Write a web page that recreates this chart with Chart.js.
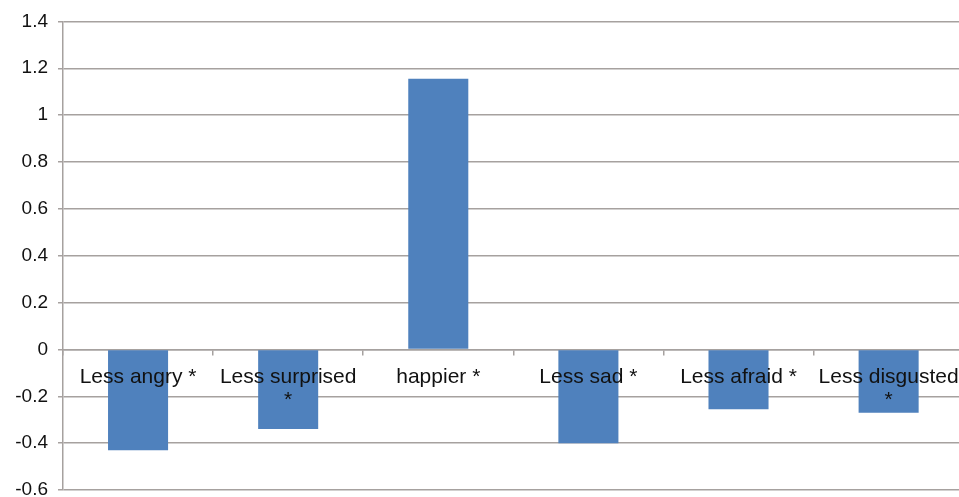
<!DOCTYPE html>
<html>
<head>
<meta charset="utf-8">
<script src="https://cdn.jsdelivr.net/npm/chart.js@4/dist/chart.umd.min.js"></script>
<style>
  html, body { margin: 0; padding: 0; background: #fff; overflow: hidden; }
  #wrap { width: 959px; height: 497px; overflow: hidden; }
</style>
</head>
<body>
<div id="wrap"><canvas id="chart" width="970" height="520"></canvas></div>
<script>
// ── DATOS ──────────────────────────────────────
const CATEGORIAS = [
  "Less angry *",
  ["Less surprised", "*"],
  "happier *",
  "Less sad *",
  "Less afraid *",
  ["Less disgusted", "*"]
];
const VALORES = [-0.43, -0.34, 1.155, -0.4, -0.255, -0.27];
const Y_MIN = -0.6, Y_MAX = 1.4, Y_PASO = 0.2;

const GRIS = "#a6a19f";
const AZUL = "#4f81bd";
const FUENTE = "'Liberation Sans', Arial, sans-serif";

Chart.defaults.font.family = FUENTE;
Chart.defaults.color = "#111";

// El lienzo es más alto/ancho que la ventana: el borde inferior y derecho quedan recortados
new Chart(document.getElementById("chart").getContext("2d"), {
  type: "bar",
  data: {
    labels: CATEGORIAS,
    datasets: [{
      data: VALORES,
      backgroundColor: AZUL,
      borderWidth: 0,
      barPercentage: 0.4,
      categoryPercentage: 1
    }]
  },
  options: {
    responsive: false,
    animation: false,
    layout: { padding: { top: 20, right: 4, bottom: 30, left: 0 } },
    plugins: { legend: { display: false }, tooltip: { enabled: false } },
    scales: {
      x: {
        position: { y: 0 },
        offset: true,
        afterFit: s => { s.height = 0; },
        grid: { offset: true, drawOnChartArea: false, drawTicks: true, tickLength: 5, color: GRIS, lineWidth: 1.5 },
        border: { color: GRIS, width: 1.5 },
        ticks: {
          z: 1,
          autoSkip: false, maxRotation: 0, padding: 11,
          font: { size: 21, lineHeight: 1.1 }, color: "#111"
        }
      },
      y: {
        min: Y_MIN, max: Y_MAX,
        afterFit: s => { s.width = 63; },
        grid: { color: GRIS, lineWidth: 1.5, tickLength: 5 },
        border: { color: GRIS, width: 1.5 },
        ticks: {
          stepSize: Y_PASO, padding: 10,
          font: { size: 19 }, color: "#111",
          callback: v => String(Number(v.toFixed(1)))
        }
      }
    }
  }
});
</script>
</body>
</html>
